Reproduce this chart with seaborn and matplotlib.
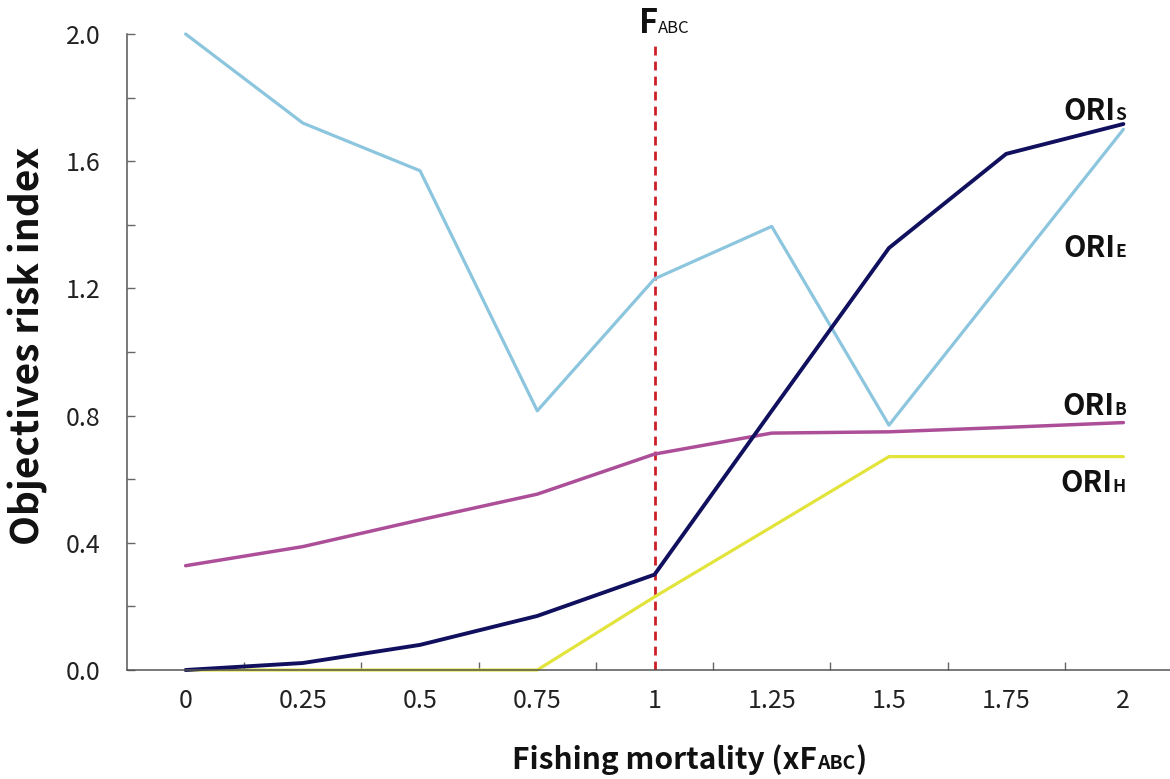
import matplotlib
matplotlib.use("Agg")
import matplotlib.pyplot as plt
from matplotlib.transforms import IdentityTransform
from matplotlib.ticker import FixedLocator, NullFormatter
import seaborn as sns
import pandas as pd

# ---------------- data ----------------
F_LEVELS = [0.0, 0.25, 0.5, 0.75, 1.0, 1.25, 1.5, 1.75, 2.0]
F_LABELS = ["0", "0.25", "0.5", "0.75", "1", "1.25", "1.5", "1.75", "2"]
ORI_E = [2.00, 1.72, 1.57, 0.815, 1.23, 1.395, 0.77, 1.235, 1.70]
ORI_S = [0.0, 0.022, 0.079, 0.17, 0.30, 0.815, 1.327, 1.623, 1.717]
ORI_B = [0.328, 0.388, 0.472, 0.553, 0.679, 0.745, 0.749, 0.763, 0.778]
ORI_H = [0.0, 0.0, 0.0, 0.0, 0.23, 0.45, 0.671, 0.671, 0.671]
Y_TICKS = [0.0, 0.4, 0.8, 1.2, 1.6, 2.0]
Y_TICK_LABELS = ["0.0", "0.4", "0.8", "1.2", "1.6", "2.0"]
FABC_REF = 1.0
FABC_LINE_TOP = 1.98

SERIES = {"ORI_E": ORI_E, "ORI_S": ORI_S, "ORI_B": ORI_B, "ORI_H": ORI_H}
COLORS = {"ORI_E": "#8cc6de", "ORI_S": "#10105e", "ORI_B": "#ac4f98", "ORI_H": "#e2e43c"}
WIDTHS = {"ORI_E": 2.3, "ORI_S": 2.8, "ORI_B": 2.5, "ORI_H": 2.3}

rows = []
for name, vals in SERIES.items():
    for f, v in zip(F_LEVELS, vals):
        rows.append({"F": f, "ORI": v, "series": name})
df = pd.DataFrame(rows)

# ---------------- style ----------------
sns.set_theme(style="white")
FONT = ["Noto Sans CJK KR", "DejaVu Sans"]
plt.rcParams["font.family"] = FONT

W, H = 1170, 779
fig = plt.figure(figsize=(W / 100, H / 100), dpi=100)
fig.patch.set_facecolor("white")

left_px, right_px, top_px, bottom_px = 127, 1182, 34, 670
ax = fig.add_axes([left_px / W, (H - bottom_px) / H,
                   (right_px - left_px) / W, (bottom_px - top_px) / H])
ax.set_facecolor("white")

for name in ["ORI_H", "ORI_B", "ORI_E", "ORI_S"]:
    sub = df[df["series"] == name]
    sns.lineplot(data=sub, x="F", y="ORI", color=COLORS[name],
                 linewidth=WIDTHS[name], legend=False, ax=ax, clip_on=False)

ax.plot([FABC_REF, FABC_REF], [0, FABC_LINE_TOP], color="#cc1f26",
        linewidth=2.0, linestyle=(0, (3.2, 2.2)), zorder=1)

ax.set_xlim(-0.125, 2.125)
ax.set_ylim(0, 2.0)
ax.set_xlabel("")
ax.set_ylabel("")

for s in ["top", "right"]:
    ax.spines[s].set_visible(False)
for s in ["left", "bottom"]:
    ax.spines[s].set_color("#555555")
    ax.spines[s].set_linewidth(1.1)

ax.set_xticks(F_LEVELS)
ax.set_xticklabels(F_LABELS)
ax.xaxis.set_minor_locator(FixedLocator([f + 0.125 for f in F_LEVELS]))
ax.xaxis.set_minor_formatter(NullFormatter())
ax.tick_params(axis="x", which="major", length=0, pad=13,
               labelsize=18, labelcolor="#222222")
ax.tick_params(axis="x", which="minor", direction="in", length=6,
               width=1.0, color="#666666", bottom=True)

ax.set_yticks(Y_TICKS)
ax.set_yticklabels(Y_TICK_LABELS)
ax.yaxis.set_minor_locator(FixedLocator([0.2, 0.6, 1.0, 1.4, 1.8]))
ax.yaxis.set_minor_formatter(NullFormatter())
ax.tick_params(axis="y", which="both", direction="in", length=6,
               width=1.0, color="#666666", left=True)
ax.tick_params(axis="y", which="major", pad=19, labelsize=18,
               labelcolor="#222222")

# ---------------- rich text helper ----------------
renderer = fig.canvas.get_renderer()


def rich_text(x_px, y_px, parts, ha="left"):
    """parts: list of (text, size_pt, weight); baseline at y_px (from top)."""
    ys = H - y_px
    arts = []
    widths = []
    for s, size, weight in parts:
        t = fig.text(0, ys, s, fontsize=size, fontweight=weight,
                     va="baseline", ha="left", transform=IdentityTransform(),
                     color="#111111", family=FONT)
        widths.append(t.get_window_extent(renderer).width)
        arts.append(t)
    total = sum(widths)
    if ha == "right":
        x0 = x_px - total
    elif ha == "center":
        x0 = x_px - total / 2
    else:
        x0 = x_px
    for t, w in zip(arts, widths):
        t.set_x(x0)
        x0 += w


# series labels
rich_text(1126, 120, [("ORI", 21, "bold"), ("S", 12.5, "bold")], ha="right")
rich_text(1126, 257, [("ORI", 21, "bold"), ("E", 12.5, "bold")], ha="right")
rich_text(1126, 415, [("ORI", 21, "bold"), ("B", 12.5, "bold")], ha="right")
rich_text(1126, 492, [("ORI", 21, "bold"), ("H", 12.5, "bold")], ha="right")

# F_ABC label
rich_text(639, 33, [("F", 23.5, "bold"), ("ABC", 12, "normal")])

# x label
rich_text(689, 769, [("Fishing mortality (xF", 21.5, "bold"),
                     ("ABC", 14, "bold"), (")", 21.5, "bold")], ha="center")

# y label
fig.text(28 / W, (H - 346) / H, "Objectives risk index", rotation=90,
         ha="center", va="center", fontsize=28, fontweight="bold",
         color="#111111")

fig.savefig("out.png", dpi=100, facecolor="white")
